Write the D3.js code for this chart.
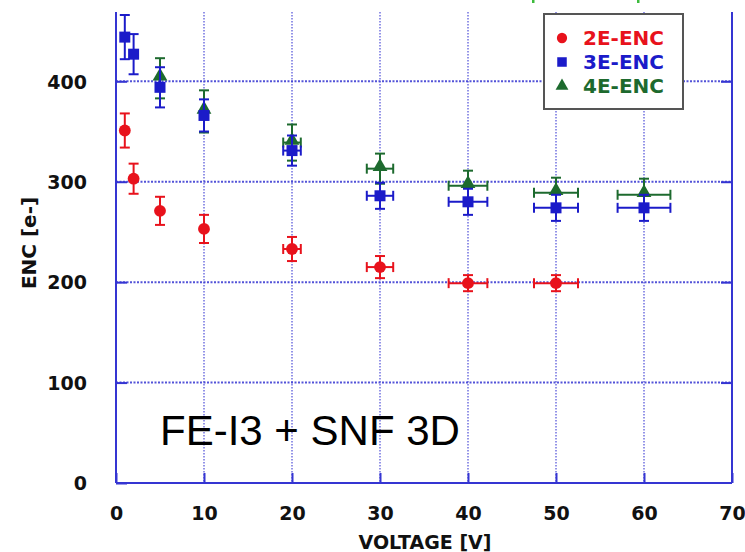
<!DOCTYPE html>
<html>
<head>
<meta charset="utf-8">
<script src="https://cdn.jsdelivr.net/npm/d3@7"></script>
<style>
  body { margin: 0; background: #fff; }
  svg { display: block; }
</style>
</head>
<body>
<div id="chart"></div>
<script>
// Data
var volt2 = [1, 2, 5, 10, 20, 30, 40, 50];
var enc2 = [351, 303, 271, 253, 233, 215, 199, 199];
var enc2Err = [17, 15, 14, 14, 12, 11, 8, 8];
var volt2Err = [0, 0, 0, 0, 1, 1.5, 2.2, 2.5];

var volt3 = [1, 2, 5, 10, 20, 30, 40, 50, 60];
var enc3 = [444, 427, 394, 366, 331, 286, 280, 274, 274];
var enc3Err = [22, 20, 20, 16, 15, 13, 13, 13, 13];
var volt3Err = [0, 0, 0, 0, 1, 1.5, 2.2, 2.5, 3];

var volt4 = [5, 10, 20, 30, 40, 50, 60];
var enc4 = [403, 370, 339, 313, 296, 289, 287];
var enc4Err = [20, 21, 18, 15, 15, 15, 16];
var volt4Err = [0, 0, 1, 1.5, 2.2, 2.5, 3];

var xTicks = [0, 10, 20, 30, 40, 50, 60, 70];
var yTicks = [0, 100, 200, 300, 400];
var seriesNames = ["2E-ENC", "3E-ENC", "4E-ENC"];
var seriesColors = ["#e8121c", "#1b1bc9", "#1d6a2e"];

var width = 745, height = 552;
var svg = d3.select("#chart").append("svg")
    .attr("width", width)
    .attr("height", height);

var x = d3.scaleLinear().domain([0, 70]).range([116, 732]);
var y = d3.scaleLinear().domain([0, 469]).range([483, 12]);

// dotted grid
var gridColor = "#4040d4";
svg.selectAll(".vgrid")
    .data(xTicks.slice(1, -1))
    .enter()
    .append("line")
    .attr("x1", function(d) { return x(d); })
    .attr("x2", function(d) { return x(d); })
    .attr("y1", y(469))
    .attr("y2", y(0))
    .attr("stroke", gridColor)
    .attr("stroke-opacity", 0.8)
    .attr("stroke-width", 1.4)
    .attr("stroke-dasharray", "1.5,1.5");
svg.selectAll(".hgrid")
    .data(yTicks.slice(1))
    .enter()
    .append("line")
    .attr("x1", x(0))
    .attr("x2", x(70))
    .attr("y1", function(d) { return y(d); })
    .attr("y2", function(d) { return y(d); })
    .attr("stroke", gridColor)
    .attr("stroke-opacity", 0.9)
    .attr("stroke-width", 2)
    .attr("stroke-dasharray", "2,1.5");

// annotation
svg.append("text")
    .attr("x", 160)
    .attr("y", 445)
    .attr("font-family", "Liberation Sans, Arial, sans-serif")
    .attr("font-size", 42)
    .attr("fill", "#000")
    .text("FE-I3 + SNF 3D");

// axes frame (left, right, bottom)
var axisColor = "#3535d2";
var frame = svg.append("g").attr("stroke", axisColor).attr("stroke-width", 2).attr("fill", "none");
frame.append("line").attr("x1", x(0)).attr("x2", x(0)).attr("y1", y(469)).attr("y2", y(0));
frame.append("line").attr("x1", x(70)).attr("x2", x(70)).attr("y1", y(469)).attr("y2", y(0));
frame.append("line").attr("x1", x(0)).attr("x2", x(70)).attr("y1", y(0)).attr("y2", y(0));

// axes with inner ticks
var tickFont = "DejaVu Sans, Verdana, sans-serif";
var xAxis = svg.append("g")
    .attr("transform", "translate(0," + y(0) + ")")
    .call(d3.axisBottom(x).tickValues(xTicks).tickSizeInner(-10).tickSizeOuter(0).tickPadding(24));
var yAxis = svg.append("g")
    .attr("transform", "translate(" + x(0) + ",0)")
    .call(d3.axisLeft(y).tickValues(yTicks).tickSizeInner(-11).tickSizeOuter(0).tickPadding(29));
var yAxisR = svg.append("g")
    .attr("transform", "translate(" + x(70) + ",0)")
    .call(d3.axisRight(y).tickValues(yTicks.slice(1)).tickSizeInner(-11).tickSizeOuter(0).tickFormat(""));
[xAxis, yAxis, yAxisR].forEach(function(a) {
    a.select(".domain").remove();
    a.selectAll(".tick line").attr("stroke", axisColor).attr("stroke-width", 2);
    a.selectAll(".tick text")
        .attr("font-family", tickFont)
        .attr("font-weight", "bold")
        .attr("font-size", 19)
        .attr("fill", "#111");
});
yAxis.selectAll(".tick text").attr("dy", "0.36em");

// axis titles
svg.append("text")
    .attr("x", 425)
    .attr("y", 549)
    .attr("text-anchor", "middle")
    .attr("font-family", tickFont)
    .attr("font-weight", "bold")
    .attr("font-size", 19)
    .attr("fill", "#111")
    .text("VOLTAGE [V]");
svg.append("text")
    .attr("transform", "translate(36,243) rotate(-90)")
    .attr("text-anchor", "middle")
    .attr("font-family", tickFont)
    .attr("font-weight", "bold")
    .attr("font-size", 20)
    .attr("fill", "#111")
    .text("ENC [e-]");

// series
var series = [
    {v: volt2, e: enc2, ee: enc2Err, ve: volt2Err, shape: d3.symbolCircle, size: 110},
    {v: volt3, e: enc3, ee: enc3Err, ve: volt3Err, shape: d3.symbolSquare, size: 121},
    {v: volt4, e: enc4, ee: enc4Err, ve: volt4Err, shape: d3.symbolTriangle, size: 95}
];
var order = [2, 1, 0];
order.forEach(function(si) {
    var s = series[si];
    var c = seriesColors[si];
    var pts = s.v.map(function(v, i) { return {v: v, e: s.e[i], ee: s.ee[i], ve: s.ve[i]}; });
    var g = svg.append("g").attr("stroke", c).attr("stroke-width", 2).attr("fill", c);
    // vertical error bars
    g.selectAll(".ey").data(pts).enter().append("line")
        .attr("x1", function(d) { return x(d.v); })
        .attr("x2", function(d) { return x(d.v); })
        .attr("y1", function(d) { return y(d.e - d.ee); })
        .attr("y2", function(d) { return y(d.e + d.ee); });
    [1, -1].forEach(function(sg) {
        g.selectAll(".cy" + sg).data(pts).enter().append("line")
            .attr("x1", function(d) { return x(d.v) - 5; })
            .attr("x2", function(d) { return x(d.v) + 5; })
            .attr("y1", function(d) { return y(d.e + sg * d.ee); })
            .attr("y2", function(d) { return y(d.e + sg * d.ee); });
    });
    // horizontal error bars
    var hp = pts.filter(function(d) { return d.ve > 0; });
    g.selectAll(".ex").data(hp).enter().append("line")
        .attr("x1", function(d) { return x(d.v - d.ve); })
        .attr("x2", function(d) { return x(d.v + d.ve); })
        .attr("y1", function(d) { return y(d.e); })
        .attr("y2", function(d) { return y(d.e); });
    [1, -1].forEach(function(sg) {
        g.selectAll(".cx" + sg).data(hp).enter().append("line")
            .attr("x1", function(d) { return x(d.v + sg * d.ve); })
            .attr("x2", function(d) { return x(d.v + sg * d.ve); })
            .attr("y1", function(d) { return y(d.e) - 5; })
            .attr("y2", function(d) { return y(d.e) + 5; });
    });
    // markers
    g.selectAll(".m").data(pts).enter().append("path")
        .attr("stroke", "none")
        .attr("transform", function(d) { return "translate(" + x(d.v) + "," + (y(d.e) - (si === 2 ? 2 : 0)) + ")"; })
        .attr("d", d3.symbol().type(s.shape).size(s.size));
});

// legend
var legend = svg.append("g");
legend.append("rect")
    .attr("x", 544)
    .attr("y", 14)
    .attr("width", 139)
    .attr("height", 95)
    .attr("fill", "#fff")
    .attr("stroke", "#555")
    .attr("stroke-width", 2);
seriesNames.forEach(function(name, i) {
    var cy = 38 + i * 24;
    legend.append("path")
        .attr("transform", "translate(562," + cy + ")")
        .attr("d", d3.symbol().type(series[i].shape).size(series[i].size * 0.75))
        .attr("fill", seriesColors[i]);
    legend.append("text")
        .attr("x", 583)
        .attr("y", cy + 7)
        .attr("font-family", tickFont)
        .attr("font-weight", "bold")
        .attr("font-size", 20)
        .attr("fill", seriesColors[i])
        .text(name);
});

// little green marks at the top edge
svg.selectAll(".gm").data([533, 638]).enter().append("rect")
    .attr("x", function(d) { return d - 1; })
    .attr("y", 0)
    .attr("width", 2.5)
    .attr("height", 3)
    .attr("fill", "#3dbb3d");
</script>
</body>
</html>
